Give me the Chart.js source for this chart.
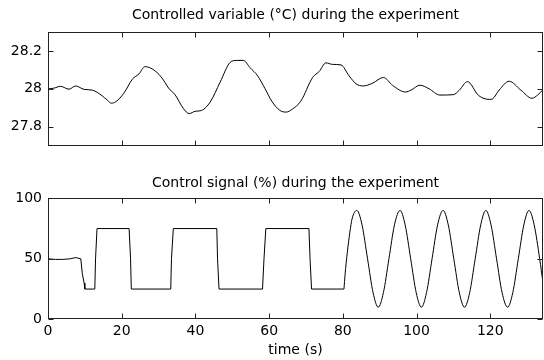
<!DOCTYPE html>
<html>
<head>
<meta charset="utf-8">
<title>Experiment</title>
<script src="https://cdn.jsdelivr.net/npm/chart.js@4.4.1/dist/chart.umd.min.js"></script>
<style>
    html, body { margin: 0; padding: 0; background: #fff; }
    body { width: 544px; height: 360px; position: relative; overflow: hidden; }
    canvas { position: absolute; left: 0; }
    #top-chart { top: 0; }
    #bottom-chart { top: 160px; }
</style>
</head>
<body>
<canvas id="top-chart" width="544" height="160"></canvas>
<canvas id="bottom-chart" width="544" height="200"></canvas>
<script>
// Controlled variable (°C)
const tempTime = [
    0, 1.5, 3.4, 5.7, 7.5, 9.8, 12.0, 14.7, 16.1, 17.2,
    18.4, 20.6, 22.9, 24.7, 26.3, 27.9, 30.1, 31.7, 32.7, 34.5,
    36.7, 38.3, 39.9, 41.7, 44.0, 46.7, 49.4, 51.2, 53.0, 54.8,
    56.9, 58.9, 60.7, 62.9, 64.6, 66.4, 68.6, 71.8, 73.6, 75.4,
    77.2, 79.5, 81.7, 83.6, 85.5, 88.1, 91.0, 93.5, 97.0, 98.5,
    100.9, 103.4, 106.3, 110.0, 111.6, 113.8, 116.8, 119.8, 120.6, 122.4,
    125.1, 128.3, 131.3, 132.9, 134.3
];
const tempValues = [
    28.000, 28.003, 28.013, 27.998, 28.015, 27.997, 27.993, 27.963, 27.940, 27.924,
    27.932, 27.977, 28.051, 28.079, 28.117, 28.109, 28.076, 28.035, 28.004, 27.968,
    27.897, 27.869, 27.881, 27.886, 27.930, 28.035, 28.139, 28.150, 28.150, 28.112,
    28.068, 28.000, 27.935, 27.886, 27.877, 27.894, 27.935, 28.060, 28.092, 28.137,
    28.129, 28.126, 28.068, 28.026, 28.015, 28.030, 28.060, 28.018, 27.983, 27.993,
    28.019, 28.000, 27.967, 27.969, 27.993, 28.038, 27.965, 27.944, 27.947, 27.993,
    28.040, 27.993, 27.950, 27.968, 27.995
];

// Control signal (%) - step part
const stepTime = [
    0, 2, 4, 6, 7.5, 8.9, 9.3, 9.8, 10.0, 12.7,
    12.9, 13.3, 22.0, 22.4, 22.6, 33.3, 33.5, 34.0, 45.8, 46.0,
    46.4, 58.2, 58.6, 59.1, 70.8, 71.1, 71.5, 80.3
];
const stepValues = [
    50, 49.5, 49.5, 50, 51, 50, 38, 30, 25, 25,
    50, 75, 75, 50, 25, 25, 50, 75, 75, 50,
    25, 25, 50, 75, 75, 50, 25, 25
];

// Control signal (%) - oscillating part
const waveTime = [
    80.3, 80.6, 81.2, 81.9, 82.5, 83.8, 85.2, 86.7, 88.2, 89.6,
    91.0, 92.5, 94.0, 95.5, 96.9, 98.4, 99.9, 101.3, 102.7, 104.2,
    105.7, 107.2, 108.6, 110.1, 111.6, 113.0, 114.4, 115.9, 117.4, 118.8,
    120.2, 121.7, 123.2, 124.7, 126.1, 127.6, 129.1, 130.5, 131.9, 133.4,
    134.3
];
const waveValues = [
    25, 37, 55, 72, 83, 90, 78, 50, 22, 10,
    22, 50, 78, 90, 78, 50, 22, 10, 22, 50,
    78, 90, 78, 50, 22, 10, 22, 50, 78, 90,
    78, 50, 22, 10, 22, 50, 78, 90, 78, 50,
    30
];

// Axis ticks
const xTicks = [0, 20, 40, 60, 80, 100, 120];
const xTickLabels = ['0', '20', '40', '60', '80', '100', '120'];
const tempTicks = [27.8, 28, 28.2];
const tempTickLabels = ['27.8', '28', '28.2'];
const signalTicks = [0, 50, 100];
const signalTickLabels = ['0', '50', '100'];

const X_MAX = 134.3;

Chart.defaults.font.family = "'DejaVu Sans', sans-serif";
Chart.defaults.font.size = 14;
Chart.defaults.color = '#000';

function toPoints(xs, ys) {
    return xs.map((x, i) => ({ x: x, y: ys[i] }));
}

// box round the plot with inward ticks on all four sides, MATLAB style
const framePlugin = {
    id: 'frame',
    afterDraw(chart) {
        const { ctx, chartArea, scales } = chart;
        const left = Math.round(chartArea.left) + 0.5;
        const right = Math.round(chartArea.right) - 0.5;
        const top = Math.round(chartArea.top) + 0.5;
        const bottom = Math.round(chartArea.bottom) - 0.5;
        const len = 5;
        ctx.save();
        ctx.strokeStyle = '#222';
        ctx.lineWidth = 1;
        ctx.strokeRect(left, top, right - left, bottom - top);
        ctx.beginPath();
        scales.x.ticks.forEach(t => {
            const x = Math.round(scales.x.getPixelForValue(t.value)) + 0.5;
            ctx.moveTo(x, bottom);
            ctx.lineTo(x, bottom - len);
            ctx.moveTo(x, top);
            ctx.lineTo(x, top + len);
        });
        scales.y.ticks.forEach(t => {
            const y = Math.round(scales.y.getPixelForValue(t.value)) + 0.5;
            ctx.moveTo(left, y);
            ctx.lineTo(left + len, y);
            ctx.moveTo(right, y);
            ctx.lineTo(right - len, y);
        });
        ctx.stroke();
        ctx.restore();
    }
};

function lineSet(points, smooth) {
    return {
        data: points,
        borderColor: '#000',
        borderWidth: 1,
        pointRadius: 0,
        fill: false,
        tension: 0,
        cubicInterpolationMode: smooth ? 'monotone' : 'default'
    };
}

function buildOptions(cfg) {
    return {
        responsive: false,
        animation: false,
        devicePixelRatio: 1,
        layout: { padding: { left: 0, right: 1, top: 0, bottom: 0 } },
        plugins: {
            legend: { display: false },
            tooltip: { enabled: false },
            title: {
                display: true,
                text: cfg.title,
                fullSize: false,
                color: '#000',
                font: { size: 14, weight: 'normal' },
                padding: cfg.titlePadding
            }
        },
        scales: {
            x: {
                type: 'linear',
                min: 0,
                max: X_MAX,
                grid: { display: false, drawTicks: false },
                border: { display: false },
                afterBuildTicks: s => { s.ticks = xTicks.map(v => ({ value: v })); },
                afterFit: s => { s.height = cfg.xHeight; },
                ticks: {
                    display: cfg.showX,
                    padding: 3.8,
                    maxRotation: 0,
                    callback: (v, i) => xTickLabels[i]
                },
                title: {
                    display: cfg.showX,
                    text: 'time (s)',
                    color: '#000',
                    padding: { top: 0, bottom: 1.6 }
                }
            },
            y: {
                type: 'linear',
                min: cfg.yMin,
                max: cfg.yMax,
                grid: { display: false, drawTicks: false },
                border: { display: false },
                afterBuildTicks: s => { s.ticks = cfg.yTicks.map(v => ({ value: v })); },
                afterFit: s => { s.width = 48; },
                ticks: {
                    padding: 6,
                    callback: (v, i) => cfg.yLabels[i]
                }
            }
        }
    };
}

new Chart(document.getElementById('top-chart'), {
    type: 'line',
    data: {
        datasets: [lineSet(toPoints(tempTime, tempValues), true)]
    },
    options: buildOptions({
        title: 'Controlled variable (°C) during the experiment',
        titlePadding: { top: 7, bottom: 8.2 },
        xHeight: 7,
        showX: false,
        yMin: 27.7,
        yMax: 28.3,
        yTicks: tempTicks,
        yLabels: tempTickLabels
    }),
    plugins: [framePlugin]
});

new Chart(document.getElementById('bottom-chart'), {
    type: 'line',
    data: {
        datasets: [
            lineSet(toPoints(stepTime, stepValues), false),
            lineSet(toPoints(waveTime, waveValues), true)
        ]
    },
    options: buildOptions({
        title: 'Control signal (%) during the experiment',
        titlePadding: { top: 14.6, bottom: 6.9 },
        xHeight: 40.7,
        showX: true,
        yMin: 0,
        yMax: 100,
        yTicks: signalTicks,
        yLabels: signalTickLabels
    }),
    plugins: [framePlugin]
});
</script>
</body>
</html>
